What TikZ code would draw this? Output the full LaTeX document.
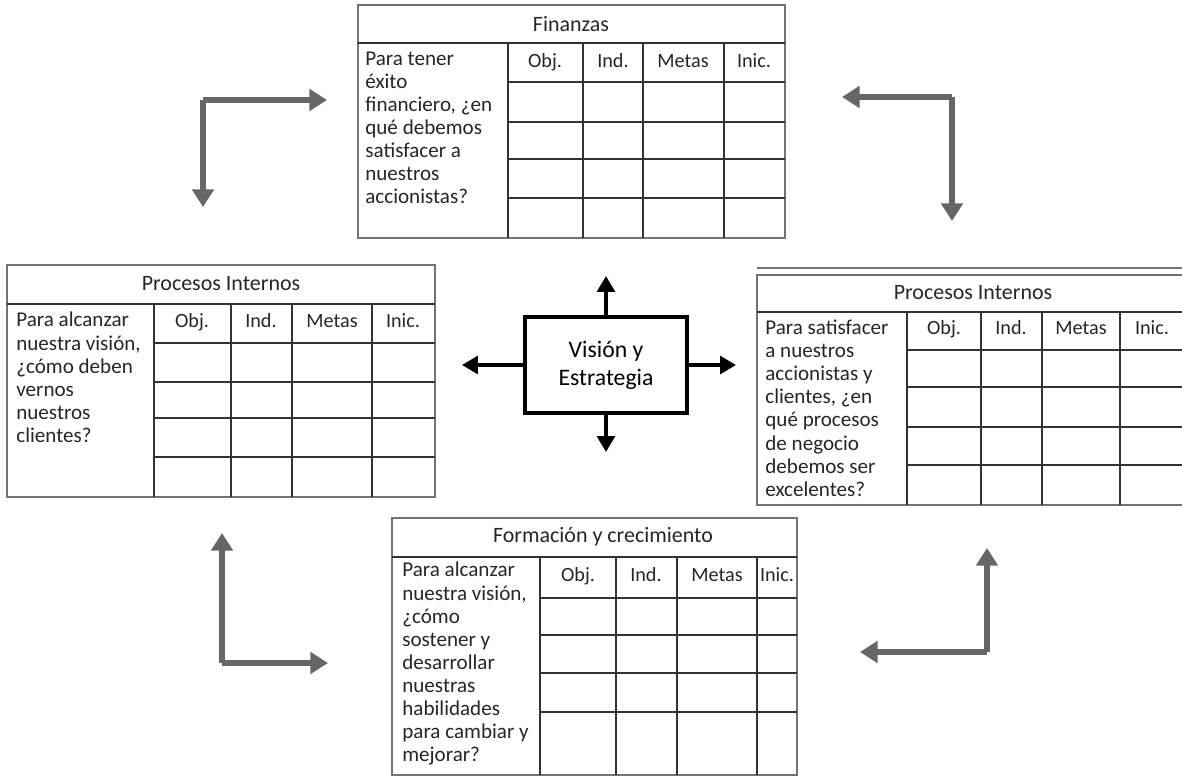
\documentclass[tikz,border=0pt]{standalone}
\usepackage{fontspec}
\setmainfont{Carlito}
\usetikzlibrary{arrows.meta}

\tikzset{
	tabframe/.style = {draw = black!55, line width = 0.7pt},
	tabline/.style = {draw = black!80, line width = 1pt},
	titletext/.style = {font = \fontsize{12.5}{14}\selectfont, text = black!85},
	headtext/.style = {font = \fontsize{11.5}{13}\selectfont, text = black!85, text height = 1.6ex, text depth = 0.45ex},
	asktext/.style = {font = \fontsize{12}{13.1}\selectfont, text = black!85, align = left, anchor = north west, inner sep = 0pt},
	thickarrow/.style = {draw = black!60, line width = 3.2pt, -{Triangle[width = 12pt, length = 10pt]}},
	centerarrow/.style = {draw = black, line width = 2.2pt, -{Triangle[width = 10pt, length = 9pt]}}
}

\begin{document}
\begin{tikzpicture}[x = 0.02cm, y = -0.02cm]
	\useasboundingbox (0, 0) rectangle (1182, 780);

	% Finanzas (arriba)
	\draw[tabframe] (358, 5) rectangle (785, 238);
	\draw[tabline] (358, 43) -- (785, 43);
	\foreach \x in {508, 583, 643, 724}{
		\draw[tabline] (\x, 43) -- (\x, 238);}
	\foreach \y in {82, 122, 159, 198}{
		\draw[tabline] (508, \y) -- (785, \y);}
	\node[titletext] (fin-title) at (571, 24) {Finanzas};
	\foreach \x/\h [count = \k] in {545/Obj., 613/Ind., 683/Metas, 754/Inic.}{
		\node[headtext] (fin-h\k) at (\x, 63) {\h};}
	\node[asktext] (fin-ask) at (365, 52) {Para tener\\éxito\\financiero, ¿en\\qué debemos\\satisfacer a\\nuestros\\accionistas?};

	% Procesos internos (izquierda)
	\draw[tabframe] (7, 265) rectangle (435, 497);
	\draw[tabline] (7, 304) -- (435, 304);
	\foreach \x in {154, 231, 292, 372}{
		\draw[tabline] (\x, 304) -- (\x, 497);}
	\foreach \y in {343, 382, 418, 457}{
		\draw[tabline] (154, \y) -- (435, \y);}
	\node[titletext] (left-title) at (221, 284) {Procesos Internos};
	\foreach \x/\h [count = \k] in {192/Obj., 261/Ind., 332/Metas, 403/Inic.}{
		\node[headtext] (left-h\k) at (\x, 323) {\h};}
	\node[asktext] (left-ask) at (16, 312) {Para alcanzar\\nuestra visión,\\¿cómo deben\\vernos\\nuestros\\clientes?};

	% Procesos internos (derecha)
	\draw[tabframe] (757, 268) -- (1182, 268);
	\draw[tabframe] (757, 275) rectangle (1190, 505);
	\draw[tabline] (757, 312) -- (1190, 312);
	\foreach \x in {907, 981, 1042, 1120}{
		\draw[tabline] (\x, 312) -- (\x, 505);}
	\foreach \y in {350, 387, 427, 465}{
		\draw[tabline] (907, \y) -- (1190, \y);}
	\node[titletext] (right-title) at (973, 293) {Procesos Internos};
	\foreach \x/\h [count = \k] in {944/Obj., 1011/Ind., 1081/Metas, 1152/Inic.}{
		\node[headtext] (right-h\k) at (\x, 330) {\h};}
	\node[asktext] (right-ask) at (765, 320) {Para satisfacer\\a nuestros\\accionistas y\\clientes, ¿en\\qué procesos\\de negocio\\debemos ser\\excelentes?};

	% Formación y crecimiento (abajo)
	\draw[tabframe] (392, 518) rectangle (797, 775);
	\draw[tabline] (392, 557) -- (797, 557);
	\foreach \x in {540, 616, 677, 757}{
		\draw[tabline] (\x, 557) -- (\x, 775);}
	\foreach \y in {598, 635, 673, 712}{
		\draw[tabline] (540, \y) -- (797, \y);}
	\node[titletext] (dev-title) at (603, 537) {Formación y crecimiento};
	\foreach \x/\h [count = \k] in {578/Obj., 646/Ind., 717/Metas, 777/Inic.}{
		\node[headtext] (dev-h\k) at (\x, 577) {\h};}
	\node[asktext] (dev-ask) at (402, 562) {Para alcanzar\\nuestra visión,\\¿cómo\\sostener y\\desarrollar\\nuestras\\habilidades\\para cambiar y\\mejorar?};

	% Visión y estrategia
	\node[draw = black, line width = 2pt, minimum width = 162*0.02cm, minimum height = 96*0.02cm,
		align = center, font = \fontsize{13.5}{16}\selectfont] (vision) at (606, 365) {Visión y\\Estrategia};
	\coordinate (v-up) at (606, 276);
	\coordinate (v-down) at (606, 452);
	\coordinate (v-left) at (462, 365);
	\coordinate (v-right) at (736, 365);
	\foreach \t in {up, down, left, right}{
		\draw[centerarrow] (vision) -- (v-\t);}

	% flechas de las esquinas
	\foreach \c/\cx/\cy/\ax/\ay/\bx/\by in {tl/203/100/327/100/203/207, tr/952/97/842/97/952/221,
		bl/222/663/222/533/328/663, br/987/652/987/548/860/652}{
		\coordinate (\c-corner) at (\cx, \cy);
		\coordinate (\c-a) at (\ax, \ay);
		\coordinate (\c-b) at (\bx, \by);
		\draw[thickarrow] (\c-corner) -- (\c-a);
		\draw[thickarrow] (\c-corner) -- (\c-b);}
\end{tikzpicture}
\end{document}
